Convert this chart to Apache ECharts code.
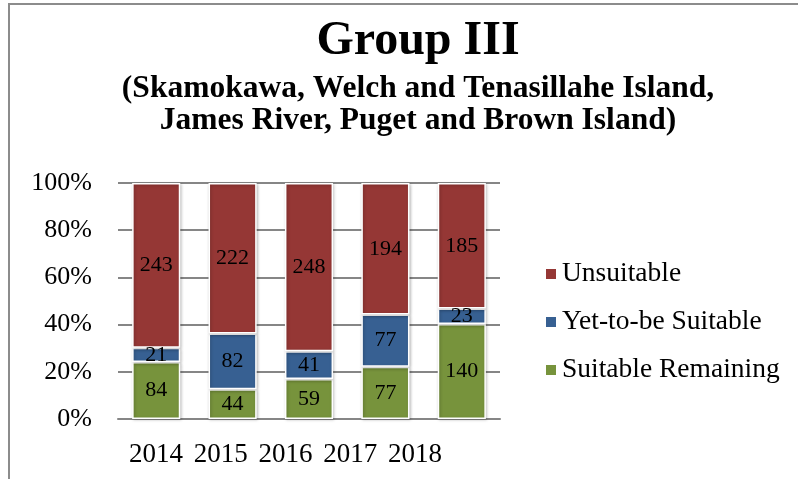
<!DOCTYPE html>
<html>
<head>
<meta charset="utf-8">
<script src="https://cdn.jsdelivr.net/npm/echarts@6/dist/echarts.min.js"></script>
<style>
  html, body { margin: 0; padding: 0; background: #fff; }
  #chart { width: 798px; height: 479px; }
</style>
</head>
<body>
<div id="chart"></div>
<script>
// Habitat suitability counts per year
const years = ['2014', '2015', '2016', '2017', '2018'];
const suitableRemaining = [84, 44, 59, 77, 140];
const yetToBeSuitable = [21, 82, 41, 77, 23];
const unsuitable = [243, 222, 248, 194, 185];
const yTicks = [0, 20, 40, 60, 80, 100];

const SERIF = '"Liberation Serif", "DejaVu Serif", serif';
const totals = years.map((_, i) => suitableRemaining[i] + yetToBeSuitable[i] + unsuitable[i]);
const pct = arr => arr.map((v, i) => v / totals[i] * 100);

const chart = echarts.init(document.getElementById('chart'));

function seriesOf(name, values, color) {
  return {
    name: name,
    type: 'bar',
    stack: 'share',
    barWidth: '63%',
    xAxisIndex: 0,
    yAxisIndex: 0,
    data: pct(values),
    itemStyle: {
      color: color,
      borderColor: '#ffffff',
      borderWidth: 1.5,
      shadowColor: 'rgba(0,0,0,0.25)',
      shadowBlur: 3,
      shadowOffsetX: 1,
      shadowOffsetY: 1
    },
    label: {
      show: true,
      position: 'inside',
      fontFamily: SERIF,
      fontSize: 22,
      color: '#000',
      formatter: p => String(values[p.dataIndex])
    }
  };
}

chart.setOption({
  animation: false,
  backgroundColor: '#ffffff',
  title: {
    text: 'Group III',
    subtext: '(Skamokawa, Welch and Tenasillahe Island,\nJames River, Puget and Brown Island)',
    left: 413,
    textAlign: 'center',
    top: 13,
    itemGap: 7,
    textStyle: { fontFamily: SERIF, fontWeight: 'bold', fontSize: 48, color: '#000' },
    subtextStyle: { fontFamily: SERIF, fontWeight: 'bold', fontSize: 31.5, lineHeight: 32, color: '#000' }
  },
  legend: {
    orient: 'vertical',
    left: 544,
    top: 260,
    padding: 0,
    itemWidth: 12,
    itemHeight: 12,
    itemGap: 20,
    icon: 'rect',
    data: ['Unsuitable', 'Yet-to-be Suitable', 'Suitable Remaining'],
    textStyle: { fontFamily: SERIF, fontSize: 27.5, color: '#000' }
  },
  grid: [
    { left: 118, top: 183, width: 382, height: 236 },
    { left: 123.6, top: 183, width: 323.75, height: 236 }
  ],
  xAxis: [
    {
      type: 'category', gridIndex: 0, data: years,
      axisLine: { lineStyle: { color: '#868686', width: 2 } },
      axisTick: { show: false },
      axisLabel: { show: false }
    },
    {
      type: 'category', gridIndex: 1, data: years,
      axisLine: { show: false },
      axisTick: { show: false },
      axisLabel: { interval: 0, fontFamily: SERIF, fontSize: 27, color: '#000', margin: 22 }
    }
  ],
  yAxis: [
    {
      type: 'value', gridIndex: 0, min: yTicks[0], max: yTicks[yTicks.length - 1], interval: 20,
      axisLine: { show: false },
      axisTick: { show: false },
      splitLine: { lineStyle: { color: '#868686', width: 2 } },
      axisLabel: { fontFamily: SERIF, fontSize: 26, color: '#000', margin: 26, formatter: v => v + '%' }
    },
    { type: 'value', gridIndex: 1, show: false, min: 0, max: 100 }
  ],
  graphic: [
    { type: 'line', shape: { x1: 8, y1: 4, x2: 798, y2: 4 }, style: { stroke: '#8c8c8c', lineWidth: 2 } },
    { type: 'line', shape: { x1: 9, y1: 4, x2: 9, y2: 479 }, style: { stroke: '#8c8c8c', lineWidth: 2 } }
  ],
  series: [
    seriesOf('Suitable Remaining', suitableRemaining, '#77933C'),
    seriesOf('Yet-to-be Suitable', yetToBeSuitable, '#376092'),
    seriesOf('Unsuitable', unsuitable, '#953735')
  ]
});
</script>
</body>
</html>
